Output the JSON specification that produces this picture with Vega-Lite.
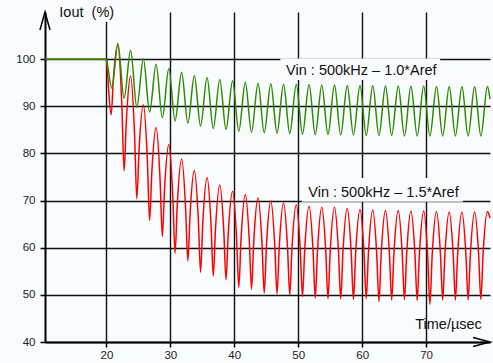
{
  "$schema": "https://vega.github.io/schema/vega-lite/v6.json",
  "width": 445,
  "height": 330,
  "autosize": {"type": "none"},
  "padding": {"left": 45, "top": 12, "right": 3, "bottom": 21},
  "background": "#f8fcfe",
  "config": {"view": {"stroke": null}, "font": "Liberation Sans"},
  "datasets": {
    "red": [
      {"t":10.4,"v":100},{"t":20.0,"v":100},{"t":20.15,"v":97.5},{"t":20.75,"v":88.2},{"t":21.1,"v":95.9},{"t":21.8,"v":103.0},
      {"t":22.42,"v":90.2},{"t":22.77,"v":76.3},{"t":23.12,"v":86.75},{"t":23.79,"v":96.4},
      {"t":24.41,"v":83.92},{"t":24.76,"v":70.4},{"t":25.11,"v":80.75},{"t":25.79,"v":90.3},
      {"t":26.41,"v":78.54},{"t":26.76,"v":65.8},{"t":27.11,"v":76.04},{"t":27.78,"v":85.5},
      {"t":28.40,"v":74.41},{"t":28.75,"v":62.4},{"t":29.10,"v":72.54},{"t":29.77,"v":81.9},
      {"t":30.39,"v":70.81},{"t":30.74,"v":58.8},{"t":31.09,"v":69.2},{"t":31.77,"v":78.8},
      {"t":32.39,"v":68.43},{"t":32.74,"v":57.2},{"t":33.09,"v":67.18},{"t":33.76,"v":76.4},
      {"t":34.38,"v":66.03},{"t":34.73,"v":54.8},{"t":35.08,"v":65.25},{"t":35.75,"v":74.9},
      {"t":36.37,"v":64.87},{"t":36.72,"v":54.0},{"t":37.07,"v":64.04},{"t":37.74,"v":73.3},
      {"t":38.36,"v":63.65},{"t":38.71,"v":53.2},{"t":39.06,"v":62.98},{"t":39.74,"v":72.0},
      {"t":40.36,"v":62.21},{"t":40.71,"v":51.6},{"t":41.06,"v":61.84},{"t":41.73,"v":71.3},
      {"t":42.35,"v":61.65},{"t":42.70,"v":51.2},{"t":43.05,"v":61.29},{"t":43.72,"v":70.6},
      {"t":44.34,"v":60.9},{"t":44.69,"v":50.4},{"t":45.04,"v":60.54},{"t":45.72,"v":69.9},
      {"t":46.34,"v":60.44},{"t":46.69,"v":50.2},{"t":47.04,"v":60.24},{"t":47.71,"v":69.5},
      {"t":48.33,"v":60.14},{"t":48.68,"v":50.0},{"t":49.03,"v":59.93},{"t":49.70,"v":69.1},
      {"t":50.32,"v":59.74},{"t":50.67,"v":49.6},{"t":51.02,"v":59.58},{"t":51.70,"v":68.8},
      {"t":52.32,"v":59.44},{"t":52.67,"v":49.3},{"t":53.02,"v":59.34},{"t":53.69,"v":68.6},
      {"t":54.31,"v":59.29},{"t":54.66,"v":49.2},{"t":55.01,"v":59.29},{"t":55.68,"v":68.6},
      {"t":56.30,"v":59.24},{"t":56.65,"v":49.1},{"t":57.00,"v":59.08},{"t":57.67,"v":68.3},
      {"t":58.29,"v":59.04},{"t":58.64,"v":49.0},{"t":58.99,"v":58.93},{"t":59.67,"v":68.1},
      {"t":60.29,"v":59.03},{"t":60.64,"v":49.2},{"t":60.99,"v":58.98},{"t":61.66,"v":68.0},
      {"t":62.28,"v":58.69},{"t":62.63,"v":48.6},{"t":62.98,"v":58.64},{"t":63.65,"v":67.9},
      {"t":64.27,"v":58.78},{"t":64.62,"v":48.9},{"t":64.97,"v":58.78},{"t":65.65,"v":67.9},
      {"t":66.27,"v":58.83},{"t":66.62,"v":49.0},{"t":66.97,"v":58.78},{"t":67.64,"v":67.8},
      {"t":68.26,"v":58.68},{"t":68.61,"v":48.8},{"t":68.96,"v":58.68},{"t":69.63,"v":67.8},
      {"t":70.25,"v":58.3},{"t":70.60,"v":48.0},{"t":70.95,"v":58.24},{"t":71.63,"v":67.7},
      {"t":72.25,"v":58.68},{"t":72.60,"v":48.9},{"t":72.95,"v":58.62},{"t":73.62,"v":67.6},
      {"t":74.24,"v":58.62},{"t":74.59,"v":48.9},{"t":74.94,"v":58.62},{"t":75.61,"v":67.6},
      {"t":76.23,"v":58.62},{"t":76.58,"v":48.9},{"t":76.93,"v":58.62},{"t":77.60,"v":67.6},
      {"t":78.22,"v":58.67},{"t":78.57,"v":49.0},{"t":78.92,"v":58.72},{"t":79.60,"v":67.7},
      {"t":80.0,"v":66.3}
    ],
    "green": [
      {"t":10.4,"v":100},{"t":20.0,"v":100},{"t":20.15,"v":99.0},{"t":20.85,"v":93.8},{"t":21.8,"v":103.3},
      {"t":22.77,"v":91.7},{"t":23.79,"v":101.9},{"t":24.76,"v":89.8},{"t":25.79,"v":100.1},
      {"t":26.76,"v":88.8},{"t":27.78,"v":98.9},{"t":28.75,"v":87.6},{"t":29.77,"v":98.0},
      {"t":30.74,"v":86.9},{"t":31.77,"v":97.2},{"t":32.74,"v":86.4},{"t":33.76,"v":96.5},
      {"t":34.73,"v":85.8},{"t":35.75,"v":96.1},{"t":36.72,"v":85.3},{"t":37.74,"v":95.7},
      {"t":38.71,"v":85.1},{"t":39.74,"v":95.4},{"t":40.71,"v":84.7},{"t":41.73,"v":95.1},
      {"t":42.70,"v":84.5},{"t":43.72,"v":94.9},{"t":44.69,"v":84.4},{"t":45.72,"v":94.8},
      {"t":46.69,"v":84.3},{"t":47.71,"v":94.7},{"t":48.68,"v":84.2},{"t":49.70,"v":94.6},
      {"t":50.67,"v":84.1},{"t":51.70,"v":94.6},{"t":52.67,"v":84.0},{"t":53.69,"v":94.5},
      {"t":54.66,"v":84.0},{"t":55.68,"v":94.5},{"t":56.65,"v":83.9},{"t":57.67,"v":94.4},
      {"t":58.64,"v":83.9},{"t":59.67,"v":94.4},{"t":60.64,"v":83.8},{"t":61.66,"v":94.4},
      {"t":62.63,"v":83.8},{"t":63.65,"v":94.3},{"t":64.62,"v":83.8},{"t":65.65,"v":94.3},
      {"t":66.62,"v":83.7},{"t":67.64,"v":94.3},{"t":68.61,"v":83.7},{"t":69.63,"v":94.3},
      {"t":70.60,"v":83.7},{"t":71.63,"v":94.2},{"t":72.60,"v":83.7},{"t":73.62,"v":94.2},
      {"t":74.59,"v":83.7},{"t":75.61,"v":94.2},{"t":76.58,"v":83.7},{"t":77.60,"v":94.2},
      {"t":78.57,"v":83.7},{"t":79.60,"v":94.2},{"t":80.0,"v":91.5}
    ],
    "boxes": [
      {"t1":47.2,"t2":72.2,"v1":95.57,"v2":100.14},
      {"t1":50.57,"t2":75.77,"v1":69.76,"v2":74.79},
      {"t1":11.96,"t2":21.67,"v1":107.94,"v2":112.5}
    ],
    "center_labels": [
      {"t":59.88,"v":96.64,"label":"Vin : 500kHz – 1.0*Aref"},
      {"t":63.34,"v":70.82,"label":"Vin : 500kHz – 1.5*Aref"}
    ],
    "left_labels": [
      {"t":12.64,"v":109.0,"label":"Iout\u00a0\u00a0(%)"},
      {"t":68.3,"v":42.75,"label":"Time/µsec"}
    ]
  },
  "layer": [
    {
      "data": {"name": "boxes"},
      "mark": {"type": "rect", "fill": "#f8fcfe", "stroke": null},
      "encoding": {
        "x": {"field": "t1", "type": "quantitative", "scale": {"domain": [10.4, 80], "nice": false, "zero": false},
          "axis": {"values": [20,30,40,50,60,70], "title": null, "grid": true, "gridColor": "#111", "gridWidth": 1.4,
            "domainColor": "#000", "domainWidth": 2, "tickColor": "#000", "tickSize": 5, "tickWidth": 1.5,
            "labelFontSize": 11.5, "labelColor": "#222", "labelPadding": 2, "labelFont": "Liberation Sans"}},
        "x2": {"field": "t2"},
        "y": {"field": "v1", "type": "quantitative", "scale": {"domain": [40, 110], "nice": false, "zero": false},
          "axis": {"values": [40,50,60,70,80,90,100], "title": null, "grid": true, "gridColor": "#111", "gridWidth": 1.4,
            "domainColor": "#000", "domainWidth": 2, "tickColor": "#000", "tickSize": 5, "tickWidth": 1.5,
            "labelFontSize": 11.5, "labelColor": "#222", "labelPadding": 5, "labelFont": "Liberation Sans"}},
        "y2": {"field": "v2"}
      }
    },
    {
      "data": {"name": "red"},
      "mark": {"type": "line", "color": "#ff0000", "strokeWidth": 1.5, "interpolate": "monotone"},
      "encoding": {
        "x": {"field": "t", "type": "quantitative", "scale": {"domain": [10.4, 80], "nice": false, "zero": false}},
        "y": {"field": "v", "type": "quantitative", "scale": {"domain": [40, 110], "nice": false, "zero": false}}
      }
    },
    {
      "data": {"name": "green"},
      "mark": {"type": "line", "color": "#2e8a00", "strokeWidth": 1.5, "interpolate": "monotone"},
      "encoding": {
        "x": {"field": "t", "type": "quantitative", "scale": {"domain": [10.4, 80], "nice": false, "zero": false}},
        "y": {"field": "v", "type": "quantitative", "scale": {"domain": [40, 110], "nice": false, "zero": false}}
      }
    },
    {
      "data": {"name": "center_labels"},
      "mark": {"type": "text", "align": "center", "baseline": "alphabetic", "fontSize": 14.5, "font": "Liberation Sans", "color": "#111"},
      "encoding": {
        "x": {"field": "t", "type": "quantitative", "scale": {"domain": [10.4, 80], "nice": false, "zero": false}},
        "y": {"field": "v", "type": "quantitative", "scale": {"domain": [40, 110], "nice": false, "zero": false}},
        "text": {"field": "label"}
      }
    },
    {
      "data": {"name": "left_labels"},
      "mark": {"type": "text", "align": "left", "baseline": "alphabetic", "fontSize": 14.5, "font": "Liberation Sans", "color": "#111"},
      "encoding": {
        "x": {"field": "t", "type": "quantitative", "scale": {"domain": [10.4, 80], "nice": false, "zero": false}},
        "y": {"field": "v", "type": "quantitative", "scale": {"domain": [40, 110], "nice": false, "zero": false}},
        "text": {"field": "label"}
      }
    },
    {
      "data": {"values": [{}]},
      "mark": {"type": "point", "shape": "M -0.28 1 L 0 0 L 0.28 1", "size": 1296, "filled": false, "stroke": "#000", "strokeWidth": 1.5, "opacity": 1},
      "encoding": {
        "x": {"datum": 10.4, "type": "quantitative"},
        "y": {"datum": 110, "type": "quantitative"}
      }
    },
    {
      "data": {"values": [{}]},
      "mark": {"type": "point", "shape": "M -0.94 -0.25 L 0 0 L -0.94 0.25", "size": 1296, "filled": false, "stroke": "#000", "strokeWidth": 1.5, "opacity": 1},
      "encoding": {
        "x": {"datum": 80, "type": "quantitative"},
        "y": {"datum": 40, "type": "quantitative"}
      }
    }
  ]
}
